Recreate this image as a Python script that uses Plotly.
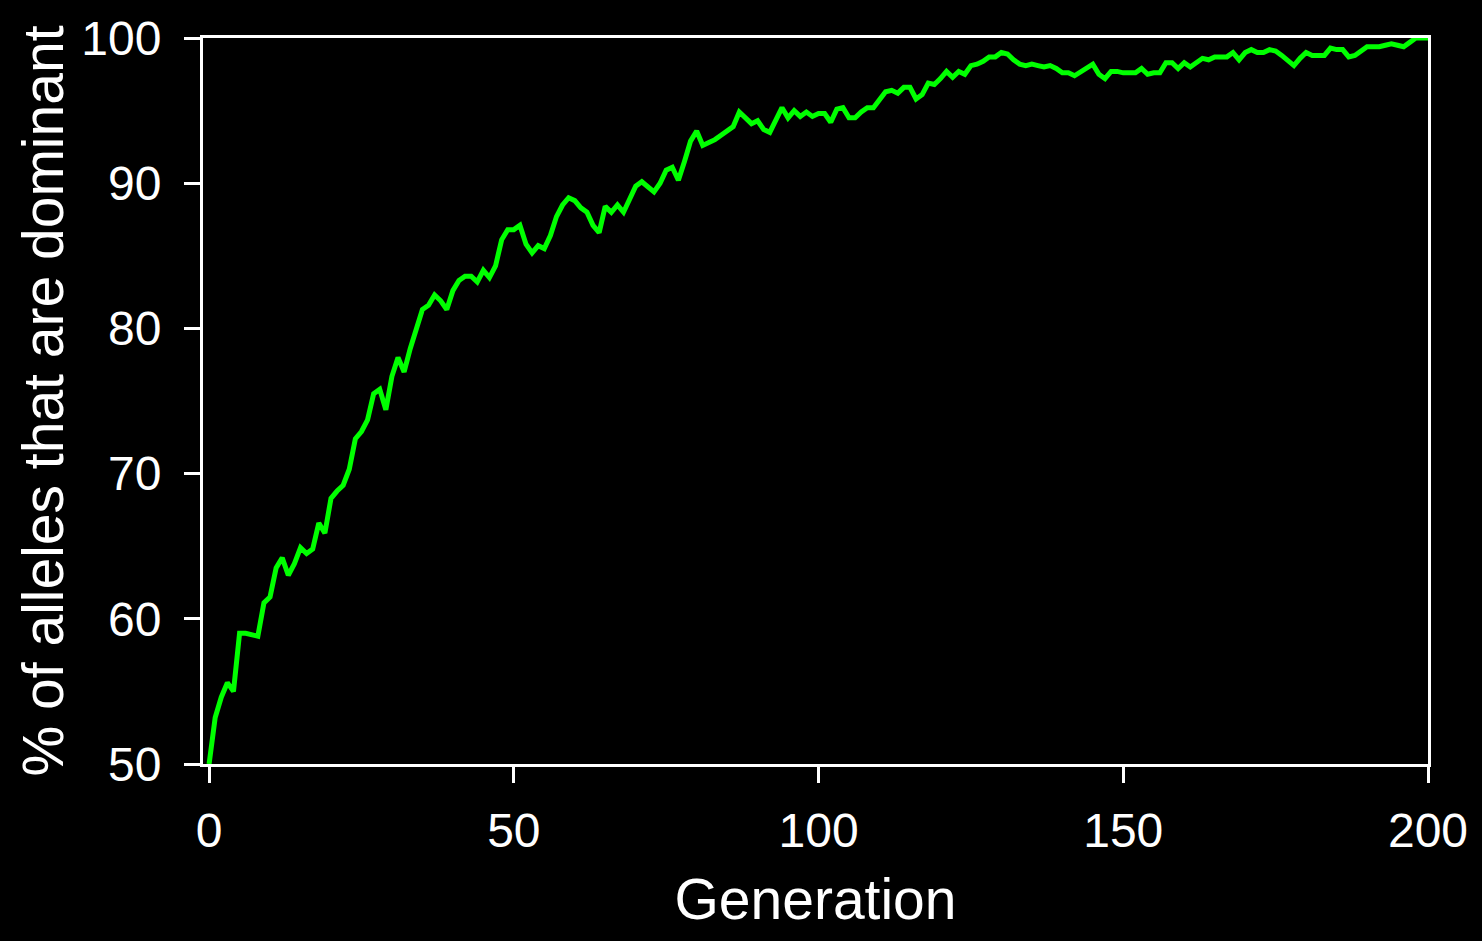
import plotly.graph_objects as go

generation = list(range(201))
pct_dominant = [
    50.0, 53.2, 54.6, 55.6, 55.0, 59.0, 59.0, 58.9, 58.8, 61.1,
    61.5, 63.5, 64.2, 63.0, 63.8, 64.9, 64.5, 64.8, 66.6, 65.9,
    68.3, 68.8, 69.2, 70.3, 72.4, 72.9, 73.7, 75.5, 75.8, 74.4,
    76.7, 78.0, 77.0, 78.6, 80.0, 81.3, 81.6, 82.3, 81.9, 81.3,
    82.6, 83.3, 83.6, 83.6, 83.2, 84.0, 83.5, 84.3, 86.1, 86.8,
    86.8, 87.1, 85.8, 85.2, 85.7, 85.5, 86.4, 87.7, 88.5, 89.0,
    88.8, 88.3, 88.0, 87.1, 86.6, 88.4, 88.0, 88.5, 88.0, 89.0,
    89.8, 90.1, 89.7, 89.4, 90.0, 90.9, 91.1, 90.2, 91.5, 92.9,
    93.6, 92.6, 92.8, 93.0, 93.3, 93.6, 93.9, 94.9, 94.5, 94.1,
    94.3, 93.7, 93.5, 94.4, 95.2, 94.5, 95.0, 94.6, 94.9, 94.6,
    94.8, 94.8, 94.2, 95.1, 95.2, 94.5, 94.5, 94.9, 95.2, 95.2,
    95.7, 96.3, 96.4, 96.2, 96.6, 96.6, 95.8, 96.1, 96.9, 96.8,
    97.2, 97.7, 97.3, 97.7, 97.5, 98.1, 98.2, 98.4, 98.7, 98.7,
    99.0, 98.9, 98.5, 98.2, 98.1, 98.2, 98.1, 98.0, 98.1, 97.9,
    97.6, 97.6, 97.4, 97.7, 98.0, 98.2, 97.5, 97.2, 97.7, 97.7,
    97.6, 97.6, 97.6, 97.9, 97.5, 97.6, 97.6, 98.3, 98.3, 97.9,
    98.3, 98.0, 98.3, 98.6, 98.5, 98.7, 98.7, 98.7, 99.0, 98.5,
    99.0, 99.2, 99.0, 99.0, 99.2, 99.1, 98.8, 98.5, 98.1, 98.6,
    99.0, 98.8, 98.8, 98.8, 99.3, 99.2, 99.2, 98.7, 98.8, 99.1,
    99.4, 99.4, 99.4, 99.5, 99.6, 99.5, 99.4, 99.7, 100.0, 100.0,
    100.0,
]

x_ticks = [0, 50, 100, 150, 200]
y_ticks = [50, 60, 70, 80, 90, 100]

fig = go.Figure()
fig.add_trace(go.Scatter(
    x=generation, y=pct_dominant, mode="lines",
    line=dict(color="#00ff00", width=5),
    showlegend=False,
))

axis_common = dict(
    showline=True, linecolor="white", linewidth=3, mirror=True,
    ticks="outside", ticklen=16, tickwidth=3, tickcolor="white",
    showgrid=False, zeroline=False,
    tickfont=dict(family="Liberation Sans, Arial, sans-serif", size=48, color="white"),
)

fig.update_layout(
    width=1482, height=941,
    paper_bgcolor="black", plot_bgcolor="black",
    margin=dict(l=203, r=54, t=38, b=177, autoexpand=False),
    font=dict(family="Liberation Sans, Arial, sans-serif", color="white"),
    xaxis=dict(
        range=[-1, 200], tickvals=x_ticks,
        title=dict(text="Generation", font=dict(size=57, color="white"), standoff=24),
        ticklabelstandoff=6,
        **axis_common,
    ),
    yaxis=dict(
        range=[50, 100], tickvals=y_ticks,
        title=dict(text="% of alleles that are dominant", font=dict(size=57, color="white"), standoff=0),
        ticklabelstandoff=13,
        **axis_common,
    ),
)

fig.write_html(
    "out.html",
    config={"displayModeBar": False},
    post_script="document.body.style.margin='0';document.body.style.padding='0';document.body.style.background='black';",
)
